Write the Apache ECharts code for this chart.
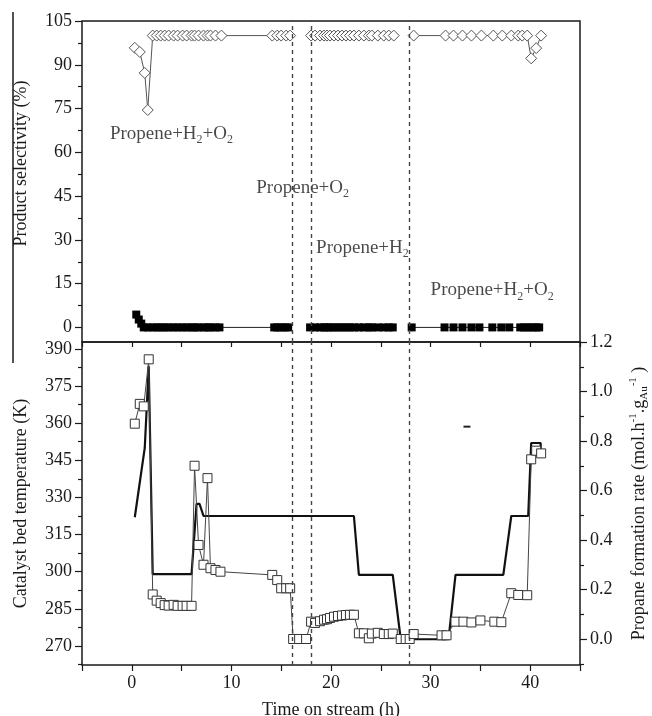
<!DOCTYPE html>
<html>
<head>
<meta charset="utf-8">
<script src="https://cdn.jsdelivr.net/npm/echarts@6/dist/echarts.min.js"></script>
<style>
  html, body { margin: 0; padding: 0; background: #fff; }
  #chart { width: 652px; height: 716px; }
</style>
</head>
<body>
<div id="chart"></div>
<script>
// top panel: selectivity (%) -- null marks a break in the line
const selTime = [0.3, 0.8, 1.3, 1.6, 2.1, 2.5, 2.9, 3.3, 3.7, 4.2, 4.6, 5.1, 5.5, 6.0, 6.3, 6.7, 7.2, 7.6, 7.9, 8.4, 9.0,
  14.1, 14.6, 15.0, 15.5, 15.9, 17.0,
  18.0, 18.4, 18.9, 19.3, 19.6, 19.9, 20.3, 20.7, 21.1, 21.5, 21.9, 22.3, 22.8, 23.3, 23.8, 24.1, 24.7, 25.3, 25.8, 26.3, 27.3,
  28.3, 31.5, 32.3, 33.2, 34.1, 35.1, 36.3, 37.2, 38.1, 38.8, 39.2, 39.7, 40.1, 40.6, 41.1];
const propeneSel = [95.8, 94.4, 87.2, 74.5, 100, 100, 100, 100, 100, 100, 100, 100, 100, 100, 100, 100, 100, 100, 100, 100, 100,
  100, 100, 100, 100, 100, null,
  100, 100, 100, 100, 100, 100, 100, 100, 100, 100, 100, 100, 100, 100, 100, 100, 100, 100, 100, 100, null,
  100, 100, 100, 100, 100, 100, 100, 100, 100, 100, 100, 100, 92.2, 95.7, 100];

const otherTime = [0.45, 0.7, 0.95, 1.2, 1.6, 2.1, 2.5, 2.9, 3.3, 3.7, 4.2, 4.6, 5.1, 5.5, 6.0, 6.3, 6.7, 7.2, 7.6, 7.9, 8.4, 8.8,
  14.3, 14.6, 15.0, 15.4, 15.7, 17.0,
  17.9, 18.4, 18.9, 19.3, 19.6, 19.9, 20.3, 20.7, 21.1, 21.5, 21.9, 22.3, 22.8, 23.3, 23.8, 24.1, 24.7, 25.3, 25.8, 26.2, 27.2,
  28.1, 31.4, 32.3, 33.2, 34.1, 34.9, 36.2, 37.1, 37.9, 39.0, 39.4, 39.8, 40.2, 40.6, 40.9];
const otherSel = [4.4, 2.7, 1.3, 0, 0, 0, 0, 0, 0, 0, 0, 0, 0, 0, 0, 0, 0, 0, 0, 0, 0, 0,
  0, 0, 0, 0, 0, null,
  0, 0, 0, 0, 0, 0, 0, 0, 0, 0, 0, 0, 0, 0, 0, 0, 0, 0, 0, 0, null,
  0, 0, 0, 0, 0, 0, 0, 0, 0, 0, 0, 0, 0, 0, 0];

// bottom panel: catalyst bed temperature (K)
const tempTime = [0.3, 1.3, 1.7, 2.1, 6.0, 6.5, 6.8, 7.2, 22.3, 22.8, 26.2, 27.0, 31.8, 32.5, 37.3, 38.1, 39.8, 40.1, 41.05, 41.05];
const tempVal = [322, 350, 383, 299, 299, 327.4, 327.4, 322.5, 322.5, 298.7, 298.7, 272.7, 272.7, 298.7, 298.7, 322.5, 322.5, 352, 352, 349];
const stubTime = [33.3, 34.0];
const stubVal = [358.6, 358.6];

// bottom panel: propane formation rate (mol h-1 gAu-1)
const rateTime = [0.3, 0.8, 1.2, 1.7, 2.1, 2.5, 2.9, 3.3, 3.7, 4.2, 4.6, 5.1, 5.5, 6.0,
  6.3, 6.7, 7.2, 7.6, 7.9, 8.4, 8.9, 14.1, 14.6, 15.0, 15.5, 15.9, 16.2, 16.8, 17.5,
  18.0, 18.4, 18.9, 19.3, 19.6, 19.9, 20.3, 20.7, 21.1, 21.5, 21.9, 22.3,
  22.8, 23.3, 23.8, 24.1, 24.7, 25.3, 25.8, 26.2, 27.0, 27.5, 27.9, 28.3,
  31.1, 31.6, 32.5, 33.3, 34.1, 35.0, 36.4, 37.1, 38.1, 38.8, 39.7, 40.1, 40.6, 41.1];
const rateVal = [0.87, 0.95, 0.94, 1.13, 0.18, 0.155, 0.145, 0.137, 0.135, 0.138, 0.134, 0.134, 0.134, 0.134,
  0.70, 0.38, 0.30, 0.65, 0.286, 0.279, 0.272, 0.259, 0.238, 0.205, 0.205, 0.205, 0, 0, 0,
  0.07, 0.065, 0.072, 0.078, 0.08, 0.085, 0.09, 0.093, 0.095, 0.097, 0.098, 0.098,
  0.023, 0.023, 0.003, 0.022, 0.025, 0.02, 0.02, 0.022, 0, 0, 0, 0.02,
  0.015, 0.015, 0.07, 0.07, 0.067, 0.075, 0.07, 0.068, 0.185, 0.178, 0.177, 0.726, 0.761, 0.75];

// feed switch times (dashed lines)
const switchTimes = [16.1, 18.0, 27.9];

// feed annotations
const annoTime = [-2.2, 12.5, 18.5, 30.0];
const annoVal = [66.2, 47.7, 27.1, 12.7];
const annoText = [
  '{a|Propene+H}{s|2}{a|+O}{s|2}',
  '{a|Propene+O}{s|2}',
  '{a|Propene+H}{s|2}',
  '{a|Propene+H}{s|2}{a|+O}{s|2}'
];

const selTicks = [0, 15, 30, 45, 60, 75, 90, 105];
const selMinor = [7.5, 22.5, 37.5, 52.5, 67.5, 82.5, 97.5];
const tempTicks = [270, 285, 300, 315, 330, 345, 360, 375, 390];
const tempMinor = [262.5, 277.5, 292.5, 307.5, 322.5, 337.5, 352.5, 367.5, 382.5];
const rateTicks = [0, 0.2, 0.4, 0.6, 0.8, 1.0, 1.2];
const rateMinor = [-0.1, 0.1, 0.3, 0.5, 0.7, 0.9, 1.1];
const timeLabels = [0, 10, 20, 30, 40];

const pairs = (xs, ys) => xs.map((x, i) => [x, ys[i]]);

const font = 'Liberation Serif';
const ink = '#1a1a1a';

const myChart = echarts.init(document.getElementById('chart'));

const hiddenAxisParts = { axisLine: { show: false, onZero: false }, splitLine: { show: false } };

function minorAxis (gridIndex, position, min, max, values) {
  return {
    type: 'value', gridIndex, position, min, max, ...hiddenAxisParts,
    axisLabel: { show: false },
    axisTick: { show: true, length: 4, customValues: values, lineStyle: { color: ink, width: 1.2 } }
  };
}

const option = {
  animation: false,
  backgroundColor: '#fff',
  textStyle: { fontFamily: font, color: ink },
  grid: [
    { left: 82, right: 72, top: 21, height: 321, show: true, borderColor: ink, borderWidth: 1.5, outerBoundsMode: 'none' },
    { left: 82, right: 72, top: 342, bottom: 51, show: true, borderColor: ink, borderWidth: 1.5, outerBoundsMode: 'none' }
  ],
  xAxis: [
    { type: 'value', gridIndex: 0, min: -5, max: 45, ...hiddenAxisParts, axisLabel: { show: false }, axisTick: { show: false } },
    {
      type: 'value', gridIndex: 1, min: -5, max: 45, interval: 5, ...hiddenAxisParts,
      axisTick: { show: true, length: 6, lineStyle: { color: ink, width: 1.2 } },
      axisLabel: { customValues: timeLabels, fontSize: 18, fontFamily: font, color: ink, margin: 9 },
      name: 'Time on stream (h)', nameLocation: 'middle', nameGap: 36,
      nameTextStyle: { fontSize: 18, fontFamily: font, color: ink }
    },
    {
      type: 'value', gridIndex: 1, position: 'top', min: -5, max: 45, interval: 5, ...hiddenAxisParts,
      axisLabel: { show: false },
      axisTick: { show: true, inside: true, length: 5, lineStyle: { color: ink, width: 1.2 } }
    }
  ],
  yAxis: [
    {
      type: 'value', gridIndex: 0, position: 'left', min: -5, max: 105, ...hiddenAxisParts,
      axisTick: { show: true, length: 7, customValues: selTicks, lineStyle: { color: ink, width: 1.2 } },
      axisLabel: { customValues: selTicks, fontSize: 18, fontFamily: font, color: ink, margin: 10 },
      name: 'Product selectivity (%)', nameLocation: 'middle', nameGap: 52,
      nameTextStyle: { fontSize: 18, fontFamily: font, color: ink, padding: [0, 0, 0, 36] }
    },
    minorAxis(0, 'left', -5, 105, selMinor),
    {
      type: 'value', gridIndex: 1, position: 'left', min: 262.3, max: 392.8, ...hiddenAxisParts,
      axisTick: { show: true, length: 7, customValues: tempTicks, lineStyle: { color: ink, width: 1.2 } },
      axisLabel: { customValues: tempTicks, fontSize: 18, fontFamily: font, color: ink, margin: 10 },
      name: 'Catalyst bed temperature (K)', nameLocation: 'middle', nameGap: 52,
      nameTextStyle: { fontSize: 18, fontFamily: font, color: ink }
    },
    minorAxis(1, 'left', 262.3, 392.8, tempMinor),
    {
      type: 'value', gridIndex: 1, position: 'right', min: -0.105, max: 1.2, ...hiddenAxisParts,
      axisTick: { show: true, length: 7, customValues: rateTicks, lineStyle: { color: ink, width: 1.2 } },
      axisLabel: { customValues: rateTicks, fontSize: 18, fontFamily: font, color: ink, margin: 10,
        formatter: v => v.toFixed(1) },
      name: '{a|Propane formation rate (mol.h}{p|-1}{a|.g}{b|Au}{p|-1}{a| )}',
      nameLocation: 'middle', nameGap: 48, nameRotate: 90,
      nameTextStyle: {
        fontSize: 18, fontFamily: font, color: ink,
        rich: {
          a: { fontSize: 18, fontFamily: font, color: ink },
          p: { fontSize: 11, fontFamily: font, color: ink, padding: [0, 0, 12, 0] },
          b: { fontSize: 11, fontFamily: font, color: ink, padding: [10, 0, 0, 0] }
        }
      }
    },
    minorAxis(1, 'right', -0.105, 1.2, rateMinor)
  ],
  graphic: [
    { type: 'line', shape: { x1: 13, y1: 12, x2: 13, y2: 363 }, style: { stroke: ink, lineWidth: 1.5 } }
  ],
  series: [
    {
      type: 'line', xAxisIndex: 0, yAxisIndex: 0, data: pairs(otherTime, otherSel),
      symbol: 'rect', symbolSize: 8, showAllSymbol: true, connectNulls: false,
      lineStyle: { color: '#222', width: 1 }, itemStyle: { color: '#000' }, z: 3
    },
    {
      type: 'line', xAxisIndex: 0, yAxisIndex: 0, data: pairs(selTime, propeneSel),
      symbol: 'diamond', symbolSize: 11, showAllSymbol: true, connectNulls: false,
      lineStyle: { color: '#555', width: 1 },
      itemStyle: { color: '#fff', borderColor: '#555', borderWidth: 1 }, z: 3,
      markLine: {
        silent: true, symbol: ['none', 'none'], label: { show: false },
        lineStyle: { color: '#444', type: [4, 4], width: 1.4 },
        data: switchTimes.map(t => ({ xAxis: t }))
      }
    },
    {
      type: 'scatter', xAxisIndex: 0, yAxisIndex: 0, symbolSize: 0, silent: true,
      data: annoTime.map((t, i) => ({ value: [t, annoVal[i]], text: annoText[i] })),
      label: {
        show: true, position: 'right', distance: 0,
        formatter: p => p.data.text,
        rich: {
          a: { fontSize: 19, fontFamily: font, color: ink },
          s: { fontSize: 12, fontFamily: font, color: ink, padding: [12, 0, 0, 0] }
        }
      }
    },
    {
      type: 'line', xAxisIndex: 1, yAxisIndex: 2, data: pairs(tempTime, tempVal),
      showSymbol: false, lineStyle: { color: '#111', width: 2.2 }, z: 2,
      markLine: {
        silent: true, symbol: ['none', 'none'], label: { show: false },
        lineStyle: { color: '#444', type: [4, 4], width: 1.4 },
        data: switchTimes.map(t => ({ xAxis: t }))
      }
    },
    {
      type: 'line', xAxisIndex: 1, yAxisIndex: 2, data: pairs(stubTime, stubVal),
      showSymbol: false, lineStyle: { color: '#222', width: 2 }
    },
    {
      type: 'line', xAxisIndex: 1, yAxisIndex: 4, data: pairs(rateTime, rateVal),
      symbol: 'rect', symbolSize: 9, showAllSymbol: true,
      lineStyle: { color: '#444', width: 1 },
      itemStyle: { color: '#fff', borderColor: '#333', borderWidth: 1 }, z: 4
    }
  ]
};

myChart.setOption(option);
</script>
</body>
</html>
